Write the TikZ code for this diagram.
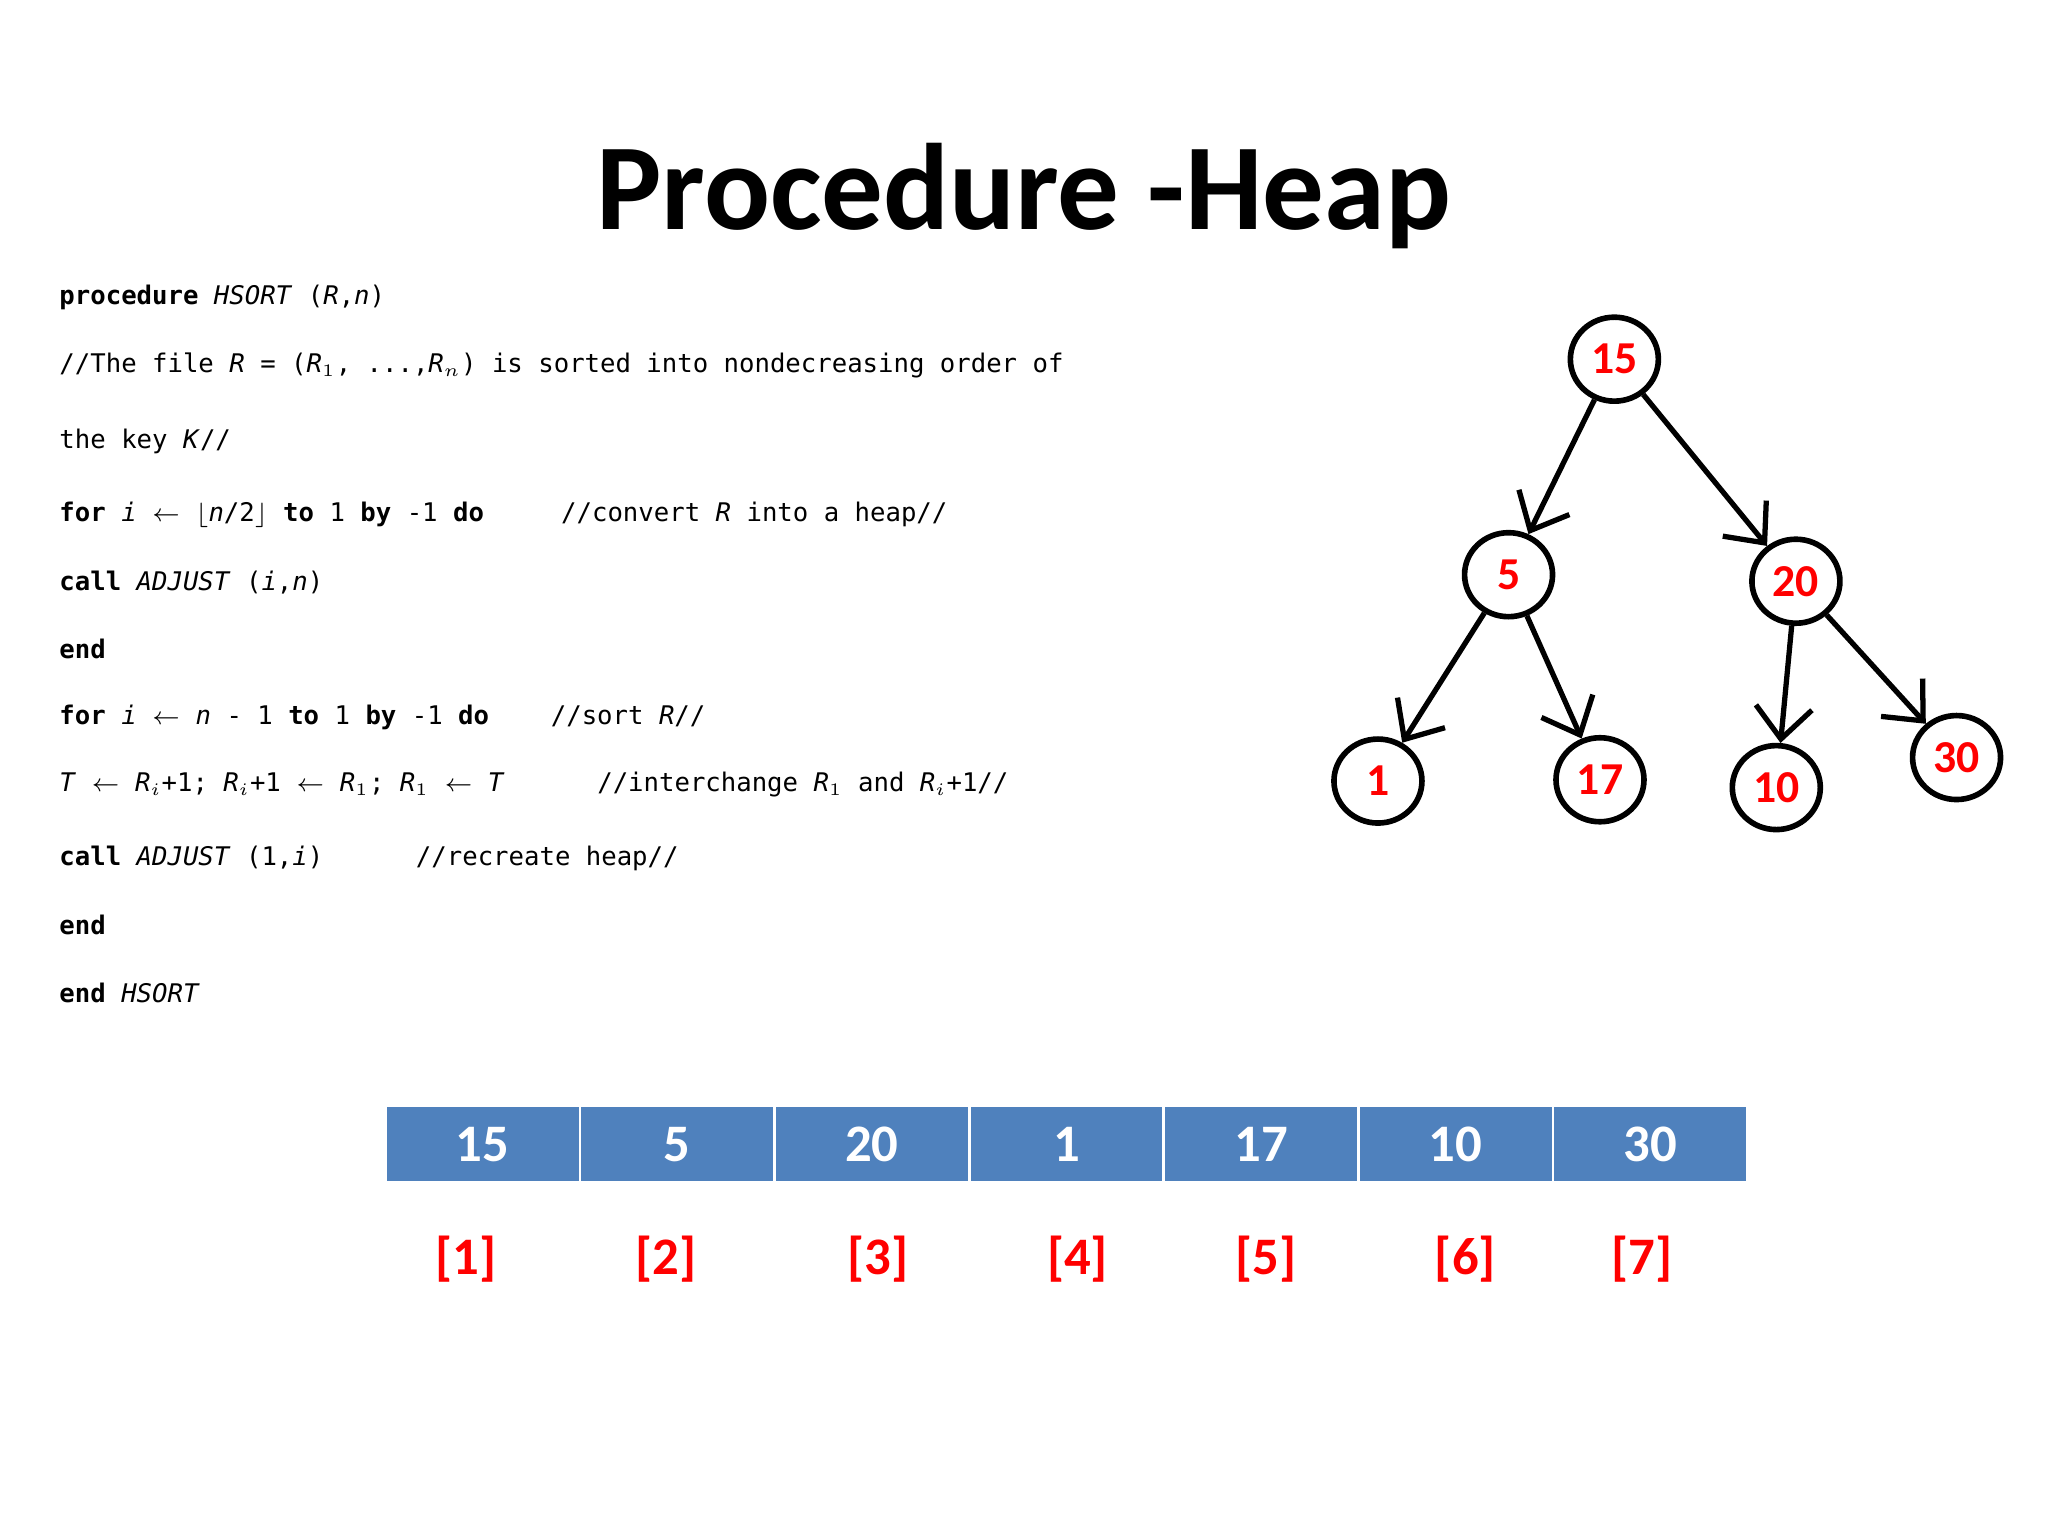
\documentclass[tikz,border=0pt]{standalone}
\usepackage{fontspec}
\setmainfont{Carlito}
\newfontfamily\codef{DejaVu Sans Mono}
\usetikzlibrary{arrows.meta,shapes.geometric}
\newcommand{\kw}[1]{\textbf{#1}}
\begin{document}
\begin{tikzpicture}[x=0.01306cm,y=-0.01306cm,
  code/.style={anchor=west,inner sep=0pt,font=\codef\fontsize{7.3}{9}\selectfont},
  cell/.style={draw=white,line width=0.8pt,fill=cellblue,minimum width=1.946cm,minimum height=0.77cm,text=white,font=\bfseries\fontsize{15}{18}\selectfont},
  idx/.style={text=red,font=\bfseries\fontsize{15}{18}\selectfont},
  hn/.style={draw,line width=1.6pt,ellipse,minimum width=0.88cm,minimum height=0.84cm,text=red,font=\bfseries\fontsize{13}{15}\selectfont,inner sep=0pt},
  ar/.style={line width=1.5pt,-{Straight Barb[length=9pt,width=16pt]}}]
\definecolor{cellblue}{RGB}{79,129,189}
\useasboundingbox (0,0) rectangle (1568,1176);
\node[font=\bfseries\fontsize{35}{42}\selectfont] (title) at (784,150) {Procedure -Heap};
\node[code] (l1) at (45,228) {\kw{procedure} \textit{HSORT} (\textit{R},\textit{n})};
\node[code] (l2) at (45,280) {//The file \textit{R} = (\textit{R}$_1$, ...,\textit{R}$_n$) is sorted into nondecreasing order of};
\node[code] (l3) at (45,338) {the key \textit{K}//};
\node[code] (l4) at (45,394) {\kw{for} \textit{i} $\leftarrow$ $\lfloor$\textit{n}/2$\rfloor$ \kw{to} 1 \kw{by} -1 \kw{do} \ \ \ \ //convert \textit{R} into a heap//};
\node[code] (l5) at (45,446) {\kw{call} \textit{ADJUST} (\textit{i},\textit{n})};
\node[code] (l6) at (45,497) {\kw{end}};
\node[code] (l7) at (45,549) {\kw{for} \textit{i} $\leftarrow$ \textit{n} - 1 \kw{to} 1 \kw{by} -1 \kw{do} \ \ \ //sort \textit{R}//};
\node[code] (l8) at (45,601) {\textit{T} $\leftarrow$ \textit{R}$_i$+1; \textit{R}$_i$+1 $\leftarrow$ \textit{R}$_1$; \textit{R}$_1$ $\leftarrow$ \textit{T} \ \ \ \ \ //interchange \textit{R}$_1$ and \textit{R}$_i$+1//};
\node[code] (l9) at (45,657) {\kw{call} \textit{ADJUST} (1,\textit{i}) \ \ \ \ \ //recreate heap//};
\node[code] (l10) at (45,708) {\kw{end}};
\node[code] (l11) at (45,760) {\kw{end} \textit{HSORT}};
\foreach \v [count=\i] in {15,5,20,1,17,10,30}{
  \node[cell] (c\i) at ({295+149*(\i-0.5)},876) {\v};
}
\foreach \x/\i in {357/1,510/2,672/3,825/4,969/5,1122/6,1257/7}{
  \node[idx] (ix\i) at (\x,964) {[\i]};
}
\node[hn] (n15) at (1236,275) {15};
\node[hn] (n5) at (1155,440) {5};
\node[hn] (n20) at (1375,445) {20};
\node[hn] (n1) at (1055,598) {1};
\node[hn] (n17) at (1225,597) {17};
\node[hn] (n10) at (1360,603) {10};
\node[hn] (n30) at (1498,580) {30};
\draw[ar] (n15) -- (n5);
\draw[ar] (n15) -- (n20);
\draw[ar] (n5) -- (n1);
\draw[ar] (n5) -- (n17);
\draw[ar] (n20) -- (n10);
\draw[ar] (n20) -- (n30);
\end{tikzpicture}
\end{document}
